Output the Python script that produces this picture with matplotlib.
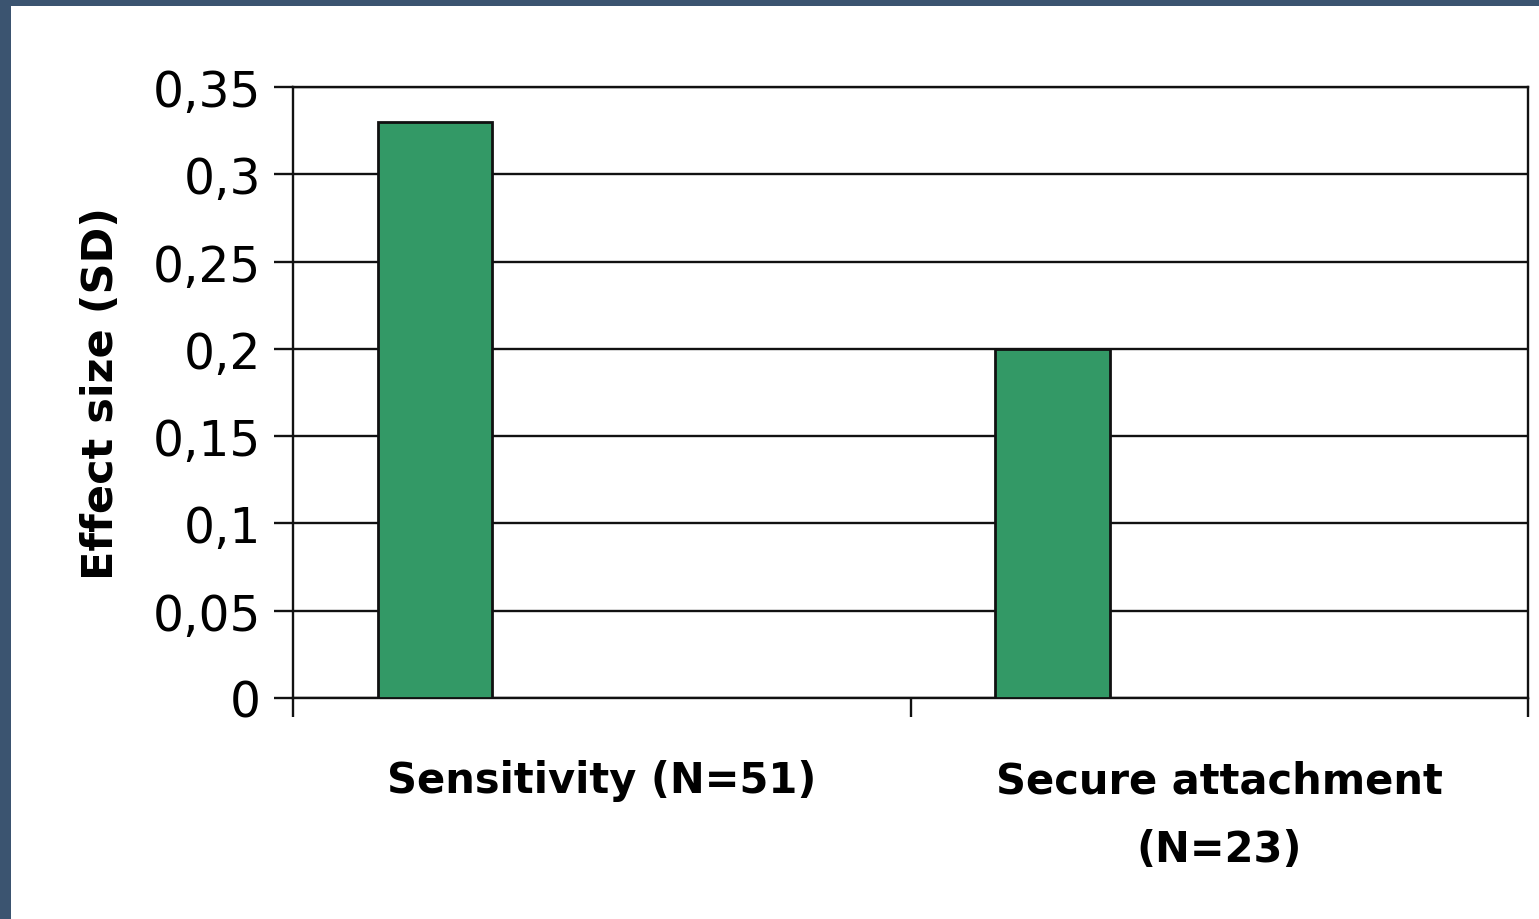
import matplotlib.pyplot as plt
from matplotlib.patches import Rectangle
from matplotlib.ticker import FixedLocator
import numpy as np

categories = ["Sensitivity (N=51)", "Secure attachment\n(N=23)"]
effect_sizes = [0.33, 0.20]
y_ticks = [0, 0.05, 0.1, 0.15, 0.2, 0.25, 0.3, 0.35]
y_tick_labels = ["0", "0,05", "0,1", "0,15", "0,2", "0,25", "0,3", "0,35"]

BAR_FACE = "#339966"
FRAME_BG = "#3b5470"
LINE = "#111111"

fig = plt.figure(figsize=(15.39, 9.2), dpi=100, facecolor=FRAME_BG)
# white slide panel (dark frame only visible at top and left)
fig.add_artist(Rectangle((11 / 1539, 0), 1 - 11 / 1539, 1 - 7 / 920,
                         transform=fig.transFigure, facecolor="white",
                         edgecolor="none", zorder=0))

ax = fig.add_axes([293 / 1539, 1 - 699 / 920, (1528 - 293) / 1539, (699 - 88) / 920])
ax.set_facecolor("white")

xpos = np.arange(len(categories))
ax.bar(xpos - 0.27, effect_sizes, width=0.185, color=BAR_FACE,
       edgecolor=LINE, linewidth=2, zorder=3)

ax.set_xlim(-0.5, 1.5)
ax.set_ylim(0, 0.35)
ax.set_yticks(y_ticks)
ax.set_yticklabels(y_tick_labels, fontsize=35)
ax.grid(axis="y", color=LINE, linewidth=1.7, zorder=1)
ax.set_axisbelow(True)

# category labels centred, tick marks at category boundaries
ax.set_xticks(xpos)
ax.set_xticklabels(categories, fontsize=30, fontweight="bold", linespacing=1.8)
ax.tick_params(axis="x", which="major", length=0, pad=44)
ax.xaxis.set_minor_locator(FixedLocator([-0.5, 0.5, 1.5]))
ax.tick_params(axis="x", which="minor", length=14, width=1.7, color=LINE)
ax.tick_params(axis="y", length=14, width=1.7, color=LINE, pad=9)

for s in ax.spines.values():
    s.set_color(LINE)
    s.set_linewidth(1.7)

ax.set_ylabel("Effect size (SD)", fontsize=31, fontweight="heavy", labelpad=22)

fig.savefig("out.png", dpi=100, facecolor=FRAME_BG)
